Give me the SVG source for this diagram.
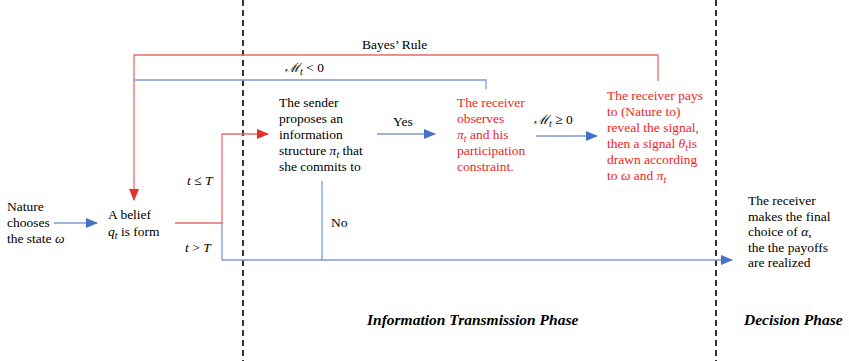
<svg xmlns="http://www.w3.org/2000/svg" width="849" height="361" viewBox="0 0 849 361">
<style>
text{font-family:'Liberation Serif','DejaVu Serif',serif;font-size:13.5px;fill:#000}
.r{fill:#f01e1e}
.m{font-style:italic}
.s{font-style:italic;font-size:10px}
.cal{font-family:'DejaVu Serif',serif;font-style:italic;font-size:13px}
.ph{font-size:15.5px;font-weight:bold;font-style:italic}
.bl{fill:none;stroke:#7b9ad8;stroke-width:1.3}
.rl{fill:none;stroke:#ec6a6a;stroke-width:1.3}
.dash{stroke:#000;stroke-width:1.6;stroke-dasharray:6 4;fill:none}
</style>
<defs>
<marker id="ab" markerWidth="12" markerHeight="10" refX="11" refY="5" orient="auto" markerUnits="userSpaceOnUse"><path d="M0,0 L12,5 L0,10 Z" fill="#4472c4"/></marker>
<marker id="ar" markerWidth="12" markerHeight="10" refX="11" refY="5" orient="auto" markerUnits="userSpaceOnUse"><path d="M0,0 L12,5 L0,10 Z" fill="#e8302a"/></marker>
</defs>
<rect width="849" height="361" fill="#fff"/>
<g id="phases">
<line class="dash" x1="243" y1="0" x2="243" y2="361"/>
<line class="dash" x1="716" y1="0" x2="716" y2="361"/>
<text class="ph" x="367" y="325">Information Transmission Phase</text>
<text class="ph" x="744" y="325">Decision Phase</text>
</g>
<g id="connectors">
<path class="bl" d="M54,223 H97" marker-end="url(#ab)"/>
<path class="rl" d="M175,223 H222 V134 H268" marker-end="url(#ar)"/>
<path class="bl" d="M222,223 V260 H732" marker-end="url(#ab)"/>
<path class="bl" d="M322,181 V260"/>
<path class="bl" d="M377,134 H435" marker-end="url(#ab)"/>
<path class="bl" d="M536,136 H597" marker-end="url(#ab)"/>
<path class="rl" d="M658,81 V55 H134 V200" marker-end="url(#ar)"/>
<path class="bl" d="M486,89 V80 H134"/>
<text x="362" y="49">Bayes’ Rule</text>
<text x="285" y="72"><tspan class="cal">ℳ</tspan><tspan class="s" dy="3">t</tspan><tspan dy="-3"> &lt; 0</tspan></text>
<text x="187" y="185"><tspan class="m">t</tspan> ≤ <tspan class="m">T</tspan></text>
<text x="185" y="252"><tspan class="m">t</tspan> &gt; <tspan class="m">T</tspan></text>
<text x="393" y="126">Yes</text>
<text x="534" y="124"><tspan class="cal">ℳ</tspan><tspan class="s" dy="3">t</tspan><tspan dy="-3"> ≥ 0</tspan></text>
<text x="331" y="227">No</text>
</g>
<g id="nature">
<text x="7" y="211">Nature</text>
<text x="7" y="227">chooses</text>
<text x="7" y="243">the state <tspan class="m">ω</tspan></text>
</g>
<g id="belief">
<text x="108" y="219">A belief</text>
<text x="108" y="236"><tspan class="m">q</tspan><tspan class="s" dy="3">t</tspan><tspan dy="-3"> is form</tspan></text>
</g>
<g id="sender">
<text x="279" y="107">The sender</text>
<text x="279" y="123">proposes an</text>
<text x="279" y="139">information</text>
<text x="279" y="155">structure <tspan class="m">π</tspan><tspan class="s" dy="3">t</tspan><tspan dy="-3"> that</tspan></text>
<text x="279" y="171">she commits to</text>
</g>
<g id="observe">
<text class="r" x="457" y="107">The receiver</text>
<text class="r" x="457" y="123">observes</text>
<text class="r" x="457" y="139"><tspan class="m">π</tspan><tspan class="s" dy="3">t</tspan><tspan dy="-3"> and his</tspan></text>
<text class="r" x="457" y="155">participation</text>
<text class="r" x="457" y="171">constraint.</text>
</g>
<g id="pay">
<text class="r" x="607" y="100">The receiver pays</text>
<text class="r" x="607" y="116">to (Nature to)</text>
<text class="r" x="607" y="132">reveal the signal,</text>
<text class="r" x="607" y="148">then a signal <tspan class="m">θ</tspan><tspan class="s" dy="3">t</tspan><tspan dy="-3">is</tspan></text>
<text class="r" x="607" y="164">drawn according</text>
<text class="r" x="607" y="180">to <tspan class="m">ω</tspan> and <tspan class="m">π</tspan><tspan class="s" dy="3">t</tspan></text>
</g>
<g id="decision">
<text x="748" y="205">The receiver</text>
<text x="748" y="221">makes the final</text>
<text x="748" y="236">choice of <tspan class="m">α</tspan>,</text>
<text x="748" y="252">the the payoffs</text>
<text x="748" y="267">are realized</text>
</g>
</svg>
